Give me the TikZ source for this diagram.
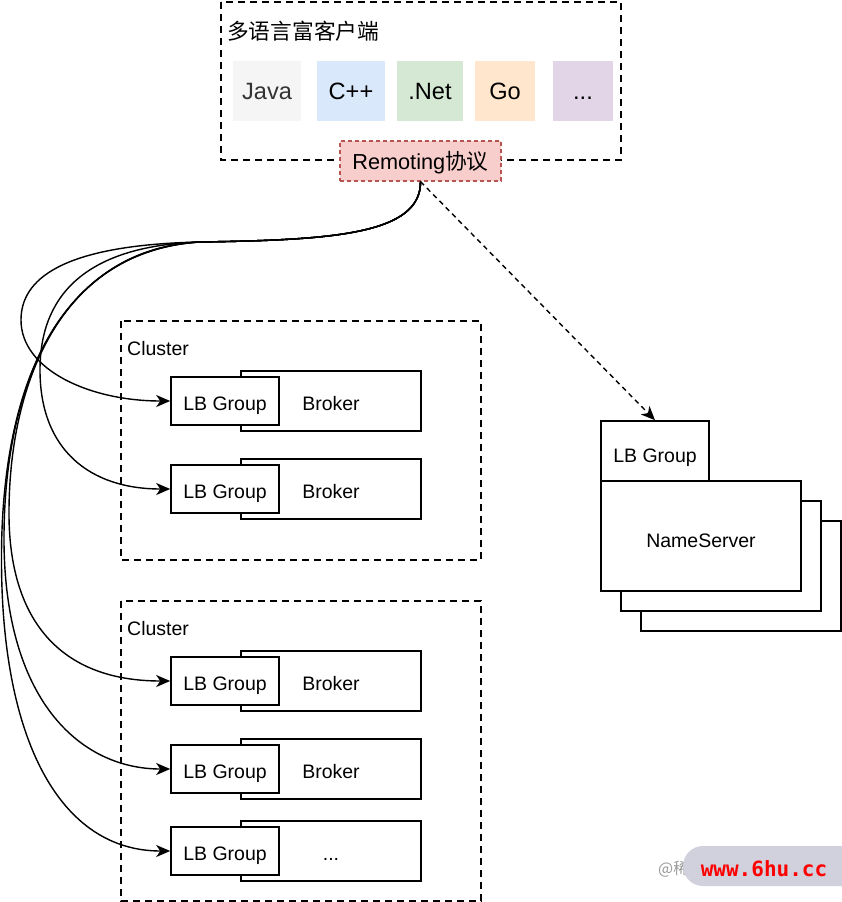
\documentclass[tikz,border=0pt]{standalone}
\usepackage{fontspec}
\setmainfont{Liberation Sans}
\newfontfamily\cjk{Noto Sans CJK SC}
\newfontfamily\wmfont{DejaVu Sans Mono}
\usetikzlibrary{arrows.meta}

\definecolor{javafill}{RGB}{245,245,245}
\definecolor{javatext}{RGB}{51,51,51}
\definecolor{cppfill}{RGB}{218,232,252}
\definecolor{netfill}{RGB}{213,232,212}
\definecolor{gofill}{RGB}{255,230,204}
\definecolor{morefill}{RGB}{225,213,231}
\definecolor{remfill}{RGB}{248,206,204}
\definecolor{remdraw}{RGB}{184,84,80}
\definecolor{wmgray}{RGB}{208,209,221}
\definecolor{wmred}{RGB}{255,0,0}

\begin{document}
\begin{tikzpicture}[x=1pt,y=1pt,yscale=-1,
  lang/.style={inner sep=0pt, minimum height=60pt, text height=16.9pt, text depth=0pt,
    font=\fontsize{23.6}{28}\selectfont},
  remote/.style={draw=remdraw, fill=remfill, line width=1.2pt, dash pattern=on 4pt off 3pt,
    minimum width=161pt, minimum height=40pt, inner sep=0pt, text height=16.6pt, text depth=0pt,
    font=\fontsize{21.7}{26}\selectfont},
  cluster/.style={line width=1.6pt, dash pattern=on 7pt off 5pt},
  broker/.style={draw, fill=white, line width=1.6pt, minimum width=180pt, minimum height=60pt,
    inner sep=0pt, text height=18pt, text depth=0pt, font=\fontsize{19.5}{23}\selectfont},
  lbgroup/.style={draw, fill=white, line width=1.6pt, minimum width=108pt, minimum height=48pt,
    inner sep=0pt, text height=18pt, text depth=0pt, font=\fontsize{19.5}{23}\selectfont},
  label/.style={anchor=west, inner sep=0pt, font=\fontsize{19.5}{23}\selectfont},
  conn/.style={line width=1.4pt, -{Stealth[length=14pt,width=12pt,inset=4pt]}},
  lookup/.style={line width=1.4pt, dash pattern=on 5pt off 4pt, -{Stealth[length=14pt,width=12pt,inset=4pt]}}]
\useasboundingbox (0,0) rectangle (842,902);

%Rectangle: clients
\draw[cluster] (221,2) rectangle (621,160);
% Text Node
\node[anchor=west, inner sep=0pt, font=\cjk\fontsize{21.7}{26}\selectfont] (title) at (227,31) {多语言富客户端};

% Languages
\node[lang, fill=javafill, text=javatext, minimum width=68pt] (java) at (267,91) {Java};
\node[lang, fill=cppfill, minimum width=68pt] (cpp) at (351,91) {C++};
\node[lang, fill=netfill, minimum width=66pt] (net) at (430,91) {.Net};
\node[lang, fill=gofill, minimum width=60pt] (go) at (505,91) {Go};
\node[lang, fill=morefill, minimum width=60pt] (more) at (583,91) {...};

% Protocol
\node[remote] (rem) at (420.5,161) {Remoting{\cjk 协议}};

%Rectangle: first cluster
\draw[cluster] (121,321) rectangle (481,560);
\node[label] (clustera) at (127,349) {Cluster};
\node[broker] (bka) at (331,401) {Broker};
\node[lbgroup] (lba) at (225,401) {LB Group};
\node[broker] (bkb) at (331,489) {Broker};
\node[lbgroup] (lbb) at (225,489) {LB Group};

%Rectangle: second cluster
\draw[cluster] (121,601) rectangle (481,901);
\node[label] (clusterb) at (127,629) {Cluster};
\node[broker] (bkc) at (331,681) {Broker};
\node[lbgroup] (lbc) at (225,681) {LB Group};
\node[broker] (bkd) at (331,769) {Broker};
\node[lbgroup] (lbd) at (225,769) {LB Group};
\node[broker] (bke) at (331,851) {...};
\node[lbgroup] (lbe) at (225,851) {LB Group};

% NameServer stack
\draw[line width=1.6pt, fill=white] (641,521) rectangle (841,631);
\draw[line width=1.6pt, fill=white] (621,501) rectangle (821,611);
\node[broker, minimum width=200pt, minimum height=110pt, text height=22pt] (ns) at (701,536) {NameServer};
\node[broker, minimum width=108pt, minimum height=60pt, text height=22pt] (nstab) at (655,451) {LB Group};

% Curves to the brokers
\draw[conn] (rem.south) .. controls (421,235) and (330,240) .. (200,242)
  .. controls (60,245) and (21,280) .. (21,320) .. controls (21,370) and (90,401) .. (lba.west);
\draw[conn] (rem.south) .. controls (421,235) and (330,240) .. (200,242)
  .. controls (80,246) and (40,300) .. (40,370) .. controls (40,450) and (90,489) .. (lbb.west);
\draw[conn] (rem.south) .. controls (421,235) and (330,240) .. (200,242)
  .. controls (70,248) and (10,370) .. (9,510) .. controls (8,620) and (60,681) .. (lbc.west);
\draw[conn] (rem.south) .. controls (421,235) and (330,240) .. (200,242)
  .. controls (60,250) and (5,385) .. (4,535) .. controls (3,700) and (80,769) .. (lbd.west);
\draw[conn] (rem.south) .. controls (421,235) and (330,240) .. (200,242)
  .. controls (50,252) and (1,400) .. (1.5,560) .. controls (1.5,740) and (60,851) .. (lbe.west);

% Lookup
\draw[lookup] (rem.south) -- (nstab.north);

% Watermark
\node[anchor=west, inner sep=0pt, text=black!40, font=\cjk\fontsize{16}{19}\selectfont] (wmat) at (658,869) {@稀};
\fill[wmgray, rounded corners=20pt] (683,846) rectangle (880,886);
\node[inner sep=0pt, text=wmred, font=\wmfont\bfseries\fontsize{21}{24}\selectfont] (wm) at (764,869) {www.6hu.cc};

\end{tikzpicture}
\end{document}
